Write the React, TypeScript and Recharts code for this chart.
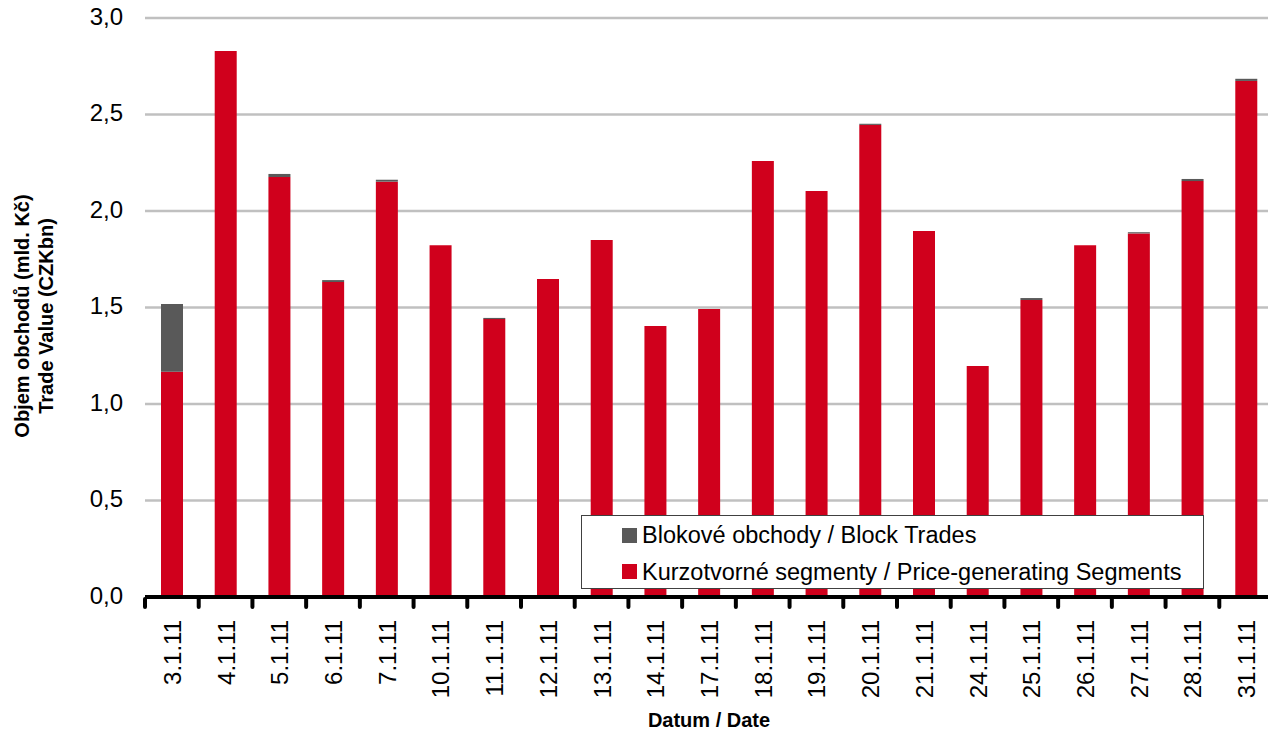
import { BarChart, Bar, XAxis, YAxis, CartesianGrid } from 'recharts';

const categories = [
  '3.1.11', '4.1.11', '5.1.11', '6.1.11', '7.1.11', '10.1.11', '11.1.11',
  '12.1.11', '13.1.11', '14.1.11', '17.1.11', '18.1.11', '19.1.11', '20.1.11',
  '21.1.11', '24.1.11', '25.1.11', '26.1.11', '27.1.11', '28.1.11', '31.1.11',
];
const priceSegments = [
  1.167, 2.829, 2.176, 1.632, 2.152, 1.823, 1.44, 1.648, 1.85, 1.404, 1.492,
  2.259, 2.104, 2.446, 1.896, 1.197, 1.539, 1.823, 1.884, 2.155, 2.674,
];
const blockTrades = [
  0.351, 0, 0.016, 0.01, 0.01, 0, 0.006, 0, 0, 0, 0,
  0, 0, 0.006, 0, 0, 0.01, 0, 0.006, 0.011, 0.011,
];
const yTicks = [0, 0.5, 1, 1.5, 2, 2.5, 3];

const RED = '#D0001C';
const GREY = '#595959';
const FONT = 'Arial, "Liberation Sans", sans-serif';

const data = categories.map((name, i) => ({
  name,
  price: priceSegments[i],
  block: blockTrades[i],
}));

const legendRows = [
  { label: 'Blokové obchody / Block Trades', color: GREY },
  { label: 'Kurzotvorné segmenty / Price-generating Segments', color: RED },
];

const fmt = (v: number) => v.toFixed(1).replace('.', ',');

function DateTick(props: any) {
  const { x, y, payload, index } = props;
  const half = payload?.offset || 26.86;
  const last = index === categories.length - 1;
  return (
    <g>
      <line x1={x - half} y1={y} x2={x - half} y2={y + 8} stroke="#000" strokeWidth={4} strokeLinecap="round" />
      {last && (
        <line x1={x + half} y1={y} x2={x + half} y2={y + 8} stroke="#000" strokeWidth={4} strokeLinecap="round" />
      )}
      <text
        transform={`translate(${x},${y + 21}) rotate(-90)`}
        textAnchor="end"
        dy={9}
        fontSize={24}
        fill="#000"
        fontFamily={FONT}
      >
        {payload.value}
      </text>
    </g>
  );
}

function LegendBox() {
  return (
    <div
      style={{
        position: 'absolute',
        left: 581,
        top: 515,
        width: 621,
        height: 72,
        border: '1px solid #404040',
        background: '#fff',
        fontFamily: FONT,
      }}
    >
      {legendRows.map((r, i) => (
        <div
          key={r.label}
          style={{
            position: 'absolute',
            left: 40,
            top: 4 + i * 36.5,
            height: 30,
            display: 'flex',
            alignItems: 'center',
            whiteSpace: 'nowrap',
          }}
        >
          <span style={{ width: 15, height: 15, background: r.color, display: 'inline-block', marginRight: 5 }} />
          <span style={{ fontSize: 23.5, color: '#000', lineHeight: '30px' }}>{r.label}</span>
        </div>
      ))}
    </div>
  );
}

export default function App() {
  return (
    <div style={{ width: 1276, height: 737, margin: '-8px 0 0 -8px', fontFamily: FONT, position: 'relative' }}>
      <BarChart
        width={1276}
        height={737}
        data={data}
        margin={{ top: 18, right: 3, left: 0, bottom: 0 }}
        barSize={22}
      >
        <CartesianGrid stroke="#C0C0C0" strokeWidth={2.5} vertical={false} />
        <XAxis
          dataKey="name"
          interval={0}
          height={140}
          tickSize={0}
          tickLine={false}
          axisLine={{ stroke: '#000', strokeWidth: 4 }}
          tick={<DateTick />}
          label={{
            value: 'Datum / Date',
            position: 'insideBottom',
            offset: 10,
            style: { fontSize: 20, fontWeight: 'bold', fill: '#000', fontFamily: FONT },
          }}
        />
        <YAxis
          width={145}
          domain={[0, 3]}
          ticks={yTicks}
          tickFormatter={fmt}
          axisLine={false}
          tickLine={false}
          tickSize={6}
          tickMargin={16}
          tick={{ fontSize: 24, fill: '#000', fontFamily: FONT, dy: -2 }}
          label={{
            content: () => (
              <g transform="translate(0,316) rotate(-90)">
                <text x={0} y={29} textAnchor="middle" fontSize={20} fontWeight="bold" fill="#000" fontFamily={FONT}>
                  Objem obchodů (mld. Kč)
                </text>
                <text x={0} y={53} textAnchor="middle" fontSize={20} fontWeight="bold" fill="#000" fontFamily={FONT}>
                  Trade Value (CZKbn)
                </text>
              </g>
            ),
          }}
        />
        <Bar dataKey="price" stackId="a" fill={RED} isAnimationActive={false} name="Kurzotvorné segmenty / Price-generating Segments" />
        <Bar dataKey="block" stackId="a" fill={GREY} isAnimationActive={false} name="Blokové obchody / Block Trades" />
      </BarChart>
      <LegendBox />
    </div>
  );
}
